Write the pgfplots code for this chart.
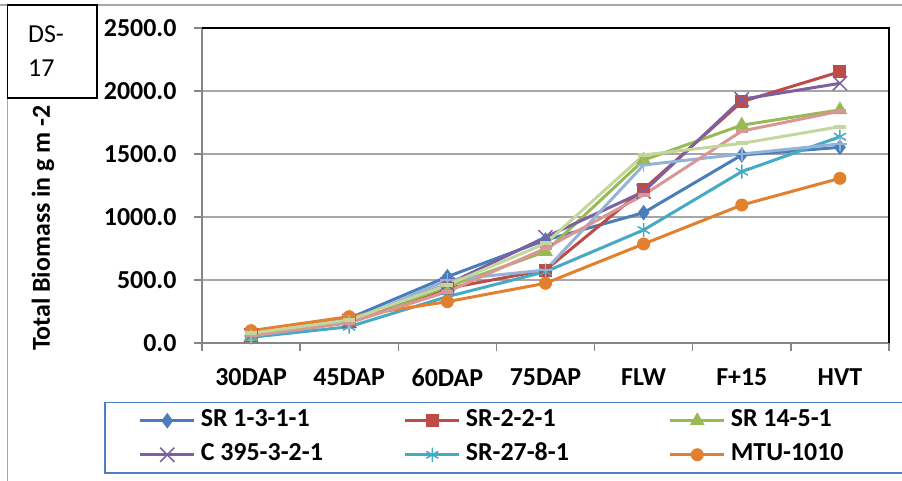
\documentclass[border=0pt]{standalone}
\usepackage{pgfplots}
\pgfplotsset{compat=1.18}
\usetikzlibrary{calc}
\usepackage{fontspec}
\setmainfont{Carlito}

\definecolor{sBlue}{HTML}{4A7EBB}
\definecolor{sRed}{HTML}{BE4B48}
\definecolor{sGreen}{HTML}{98B954}
\definecolor{sPurple}{HTML}{7D60A0}
\definecolor{sTeal}{HTML}{46AAC5}
\definecolor{sOrange}{HTML}{E3802E}
\definecolor{sLtBlue}{HTML}{95B3D7}
\definecolor{sPink}{HTML}{D99694}
\definecolor{sLtGreen}{HTML}{C3D69B}
\definecolor{gridgray}{HTML}{A6A6A6}
\definecolor{axisgray}{HTML}{868686}
\definecolor{legblue}{HTML}{4F81BD}

\newcommand{\bigbf}{\fontsize{26}{31}\selectfont\bfseries}

\begin{document}
\begin{tikzpicture}[x=1bp,y=1bp]
\begin{axis}[
  name=ax, at={(0,0)}, anchor=south west,
  width=687bp, height=315bp, scale only axis,
  xmin=-0.5, xmax=6.5, ymin=0, ymax=2500,
  clip=false,
  axis line style={axisgray, line width=1.5bp},
  tick pos=left, tick align=outside,
  major tick length=8bp,
  tick style={axisgray, line width=1.5bp},
  xtick={-0.5,0.5,...,6.5}, xticklabels={},
  extra x ticks={0,1,2,3,4,5,6},
  extra x tick labels={30DAP,45DAP,60DAP,75DAP,FLW,F+15,HVT},
  extra x tick style={major tick length=0pt, grid=none},
  xticklabel style={font=\bigbf, yshift=-22bp},
  ytick={0,500,...,2500},
  ymajorgrids, grid style={gridgray, line width=1.5bp},
  yticklabel style={font=\bigbf, xshift=-14bp,
    /pgf/number format/fixed, /pgf/number format/fixed zerofill,
    /pgf/number format/precision=1, /pgf/number format/1000 sep={},
    /pgf/number format/assume math mode=true},
  ylabel={Total Biomass in g m -2},
  ylabel style={font=\bigbf, at={(rel axis cs:-0.2314,0.365)}, anchor=center},
  legend columns=3,
  legend cell align=left,
  legend style={at={(rel axis cs:-0.1426,-0.1873)}, anchor=north west,
    draw=legblue, line width=1.5bp, fill=white,
    inner xsep=34bp, inner ysep=1bp, /tikz/column sep=0bp,
    nodes={inner xsep=5bp, inner ysep=4.5bp, text height=18bp, text depth=7bp, font=\bigbf}},
  legend image code/.code={
    \draw[mark repeat=2, mark phase=2, #1]
      plot coordinates {(0bp,0bp) (27bp,0bp) (54bp,0bp)};},
]
\addplot[sBlue, line width=3bp, mark=diamond*, mark size=7bp,
  mark options={solid, line width=1bp, fill=sBlue}]
  coordinates {(0,63) (1,196) (2,526) (3,817) (4,1034) (5,1492) (6,1553)};
\addlegendentry{\makebox[198bp][l]{SR 1-3-1-1}}
\addplot[sRed, line width=3bp, mark=square*, mark size=6bp,
  mark options={solid, line width=1bp, fill=sRed}]
  coordinates {(0,60) (1,170) (2,434) (3,579) (4,1220) (5,1915) (6,2153)};
\addlegendentry{\makebox[198bp][l]{SR-2-2-1}}
\addplot[sGreen, line width=3bp, mark=triangle*, mark size=7.5bp,
  mark options={solid, line width=1bp, fill=sGreen}]
  coordinates {(0,50) (1,165) (2,447) (3,725) (4,1452) (5,1729) (6,1850)};
\addlegendentry{\makebox[198bp][l]{SR 14-5-1}}
\addplot[sPurple, line width=3bp, mark=x, mark size=10bp,
  mark options={solid, line width=1.5bp}]
  coordinates {(0,60) (1,175) (2,465) (3,840) (4,1201) (5,1934) (6,2061)};
\addlegendentry{\makebox[198bp][l]{C 395-3-2-1}}
\addplot[sTeal, line width=3bp, mark=asterisk, mark size=7bp,
  mark options={solid, line width=1.5bp}]
  coordinates {(0,45) (1,129) (2,368) (3,566) (4,897) (5,1360) (6,1637)};
\addlegendentry{\makebox[198bp][l]{SR-27-8-1}}
\addplot[sOrange, line width=3bp, mark=*, mark size=6bp,
  mark options={solid, line width=1bp, fill=sOrange}]
  coordinates {(0,98) (1,209) (2,328) (3,474) (4,786) (5,1095) (6,1307)};
\addlegendentry{\makebox[198bp][l]{MTU-1010}}
% three further series whose legend entries fall outside the picture
\addplot[forget plot, sLtBlue, line width=3bp, mark=+, mark size=7bp,
  mark options={solid, line width=1.5bp}]
  coordinates {(0,55) (1,165) (2,500) (3,579) (4,1413) (5,1500) (6,1580)};
\addplot[forget plot, sPink, line width=3bp, mark=-, mark size=6bp,
  mark options={solid, line width=4bp}]
  coordinates {(0,60) (1,160) (2,407) (3,751) (4,1175) (5,1682) (6,1840)};
\addplot[forget plot, sLtGreen, line width=3bp, mark=-, mark size=6bp,
  mark options={solid, line width=4bp}]
  coordinates {(0,77) (1,183) (2,460) (3,790) (4,1492) (5,1584) (6,1717)};
\draw[black, line width=2bp] (rel axis cs:0,1) -- (rel axis cs:1,1) -- (rel axis cs:1,0);
\end{axis}

% chart area frame and the DS-17 box, in picture pixels (origin bottom left)
\begin{scope}[shift={(ax.south west)}, shift={(-202,-138)}]
\draw[gridgray, line width=1.5bp] (0,476) -- (910,476);
\draw[gridgray, line width=1.5bp] (7.5,476) -- (7.5,-10);
\draw[black, line width=1.5bp] (7.5,476) rectangle (97,383);
\node[anchor=north west, inner sep=0pt, align=left,
      font=\fontsize{26}{35}\selectfont\mdseries] at (28,456) {DS-\\17};
\end{scope}
\pgfresetboundingbox
\path[use as bounding box] ($(ax.south west)+(-202,-138)$) rectangle ($(ax.south west)+(700,343)$);
\end{tikzpicture}
\end{document}
